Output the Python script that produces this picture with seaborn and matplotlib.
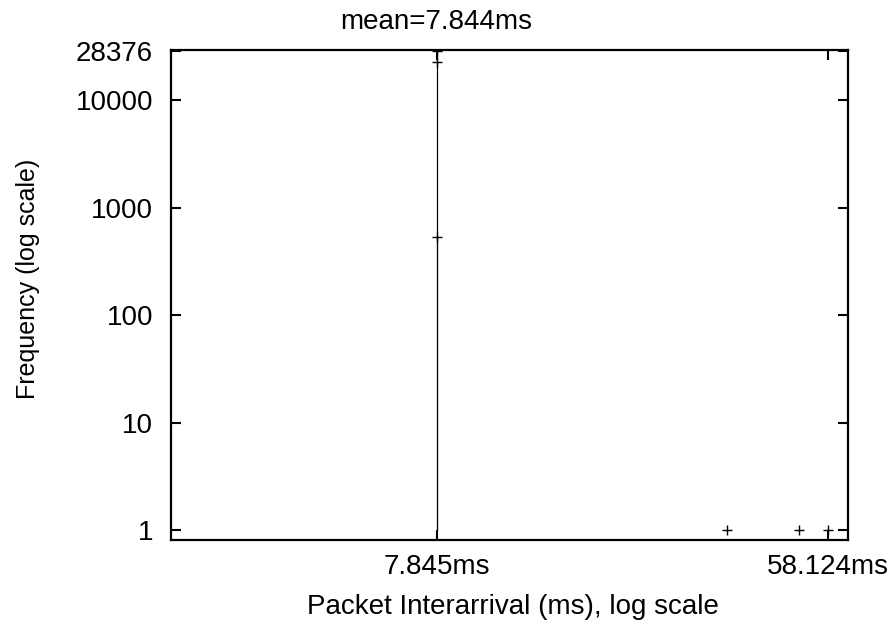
import matplotlib
matplotlib.use("Agg")
import matplotlib.pyplot as plt
import matplotlib.ticker as mticker
from matplotlib import font_manager
import seaborn as sns
import pandas as pd

# Data
interarrival_ms = [7.845, 7.845, 7.845, 34.66, 50.1, 58.124]
frequency = [28376, 22400, 535, 1, 1, 1]
x_tick_values = [7.845, 58.124]
x_tick_labels = ["7.845ms", "58.124ms"]
y_tick_values = [1, 10, 100, 1000, 10000, 28376]
y_tick_labels = ["1", "10", "100", "1000", "10000", "28376"]
title_text = "mean=7.844ms"
x_label = "Packet Interarrival (ms), log scale"
y_label = "Frequency (log scale)"

sns.set_style("ticks")
plt.rcParams["font.family"] = ["Liberation Sans", "DejaVu Sans"]
plt.rcParams["text.color"] = "black"
plt.rcParams["xtick.color"] = "black"
plt.rcParams["ytick.color"] = "black"

FS = 20

df = pd.DataFrame({"x": interarrival_ms, "y": frequency})

fig = plt.figure(figsize=(8.94, 6.31), dpi=100)
ax = fig.add_axes([171 / 894, 1 - 540 / 631, (848 - 171) / 894, (540 - 49.5) / 631])

ax.set_xscale("log")
ax.set_yscale("log")

# impulses from y=1 up to each value
ax.vlines(df["x"], 1, df["y"], colors="black", linewidth=0.8, zorder=2)
sns.scatterplot(data=df, x="x", y="y", ax=ax, marker="+", s=60, color="black",
                linewidth=1.0, zorder=3, legend=False)

ax.set_xlim(2.008, 64.4)
ax.set_ylim(0.816, 29500)

ax.xaxis.set_major_locator(mticker.FixedLocator(x_tick_values))
ax.xaxis.set_major_formatter(mticker.FixedFormatter(x_tick_labels))
ax.xaxis.set_minor_locator(mticker.NullLocator())
ax.yaxis.set_major_locator(mticker.FixedLocator(y_tick_values))
ax.yaxis.set_major_formatter(mticker.FixedFormatter(y_tick_labels))
ax.yaxis.set_minor_locator(mticker.NullLocator())

ax.tick_params(axis="both", which="major", direction="in", length=7, width=1.5,
               labelsize=FS, top=True, right=True, colors="black")
ax.tick_params(axis="x", pad=10)
ax.tick_params(axis="y", pad=13)

for side in ["left", "right", "top", "bottom"]:
    ax.spines[side].set_visible(True)
    ax.spines[side].set_linewidth(1.6)
    ax.spines[side].set_color("black")

ax.set_xlabel("")
ax.set_ylabel("")

fig.text(436.5 / 894, 1 - 22 / 631, title_text, ha="center", va="center",
         fontsize=FS, color="black")
fig.text(513 / 894, 1 - 607 / 631, x_label, ha="center", va="center",
         fontsize=FS, color="black")
fig.text(28 / 894, 1 - 279 / 631, y_label, ha="center", va="center",
         fontsize=18, color="black", rotation=90)

fig.savefig("out.png", dpi=100, facecolor="white")
